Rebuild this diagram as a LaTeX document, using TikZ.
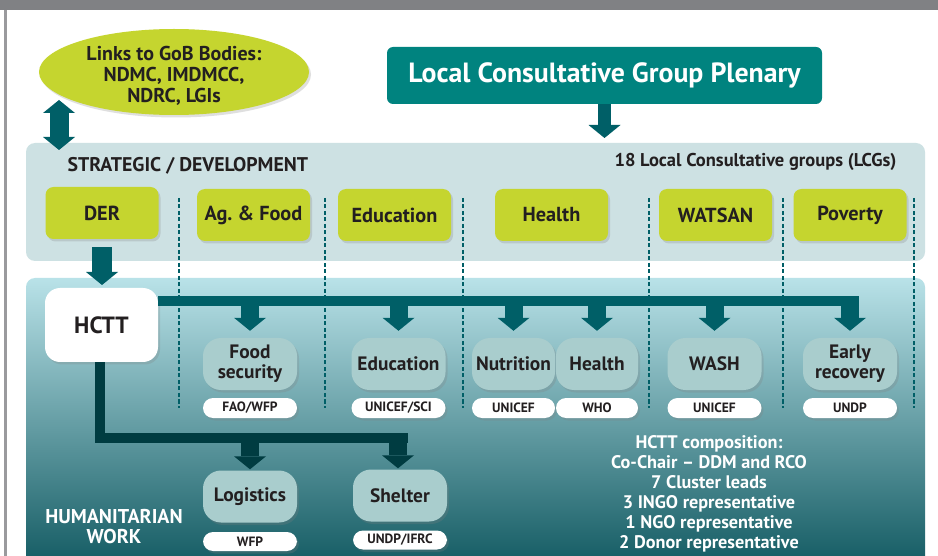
\documentclass[tikz,border=0pt]{standalone}
\usepackage{fontspec}
\setmainfont{PT Sans}
\usetikzlibrary{arrows.meta,shadows,shapes.geometric}
\definecolor{topgray}{HTML}{808184}
\definecolor{lime}{HTML}{C5D52F}
\definecolor{plen}{HTML}{00837F}
\definecolor{arr}{HTML}{005F67}
\definecolor{darkarr}{HTML}{003C41}
\definecolor{strat}{HTML}{CDE1E3}
\definecolor{clus}{HTML}{A9CDCD}
\definecolor{txt}{HTML}{231F20}
\definecolor{humtop}{HTML}{B9E2E8}
\definecolor{hummid}{HTML}{78B5BD}
\definecolor{humbot}{HTML}{004B53}
\tikzset{
  fsz/.style={font=\bfseries\fontsize{#1}{#1}\selectfont},
  softshadow/.style={drop shadow={opacity=0.25,shadow xshift=2pt,shadow yshift=-2.5pt}},
  gbox/.style={fill=lime, rounded corners=8pt, minimum width=113pt, minimum height=52pt,
    inner sep=0pt, text=txt, fsz=20.3, softshadow},
  cbox/.style={fill=clus, rounded corners=18pt, minimum width=94pt, minimum height=52pt,
    inner sep=0pt, text=txt, align=center, font=\bfseries\fontsize{19.4}{20}\selectfont, softshadow},
  lbox/.style={fill=white, rounded corners=10pt, minimum width=94pt, minimum height=20pt,
    inner sep=0pt, text=txt, fsz=13.5, softshadow},
  blockarr/.style={draw=arr, line width=#1, -{Triangle[width=32pt,length=13pt,line width=0pt]}},
  lowarr/.style={draw=darkarr, line width=18pt, -{Triangle[width=32pt,length=13pt,line width=0pt]}},
  divider/.style={draw=arr, line width=1.4pt, dash pattern=on 4pt off 2.5pt},
}
\begin{document}
\begin{tikzpicture}[x=1pt,y=-1pt]
\useasboundingbox (0,0) rectangle (938,556);
\fill[white] (0,0) rectangle (938,556);
% frame
\fill[topgray] (0,0) rectangle (938,10);
\fill[topgray!80] (4,10) rectangle (6.5,556);
% panels
\fill[strat, rounded corners=9pt] (26,143) rectangle (925,261);
\begin{scope}
  \clip (0,0) rectangle (938,556);
  \shade[top color=humtop, middle color=hummid, bottom color=humbot, rounded corners=9pt]
    (26,278) rectangle (925,600);
\end{scope}
% dividers
\foreach \xx in {179,325,463,649,783,914}
  \draw[divider] (\xx,198) -- (\xx,408);
% top nodes
\node[ellipse, fill=lime, minimum width=270pt, minimum height=86pt, inner sep=0pt, softshadow] (gob) at (174,72) {};
\node[text=txt, align=center, font=\bfseries\fontsize{20}{21}\selectfont] (gobtext) at ([yshift=-4pt]gob.center)
  {Links to GoB Bodies:\\NDMC, IMDMCC,\\NDRC, LGIs};
\node[fill=plen, rounded corners=6pt, minimum width=435pt, minimum height=57pt, inner sep=0pt,
  text=white, fsz=27.8] (plenary) at (604.5,75.5) {Local Consultative Group Plenary};
\coordinate (strattop) at (604.5,138);
\coordinate (dtop) at (59,100);
\coordinate (dbot) at (59,150);
\draw[draw=arr, line width=19pt, {Triangle[width=32pt,length=13pt,line width=0pt]}-{Triangle[width=32pt,length=13pt,line width=0pt]}] (dtop) -- (dbot);
\draw[blockarr=13pt] (plenary.south) -- (strattop);
% strategic
\node[anchor=west, text=txt, fsz=19.8] (stratlab) at (64,166) {STRATEGIC / DEVELOPMENT};
\node[anchor=east, text=txt, fsz=18.5] (lcglab) at (900,162) {18 Local Consultative groups (LCGs)};
\node[gbox] (der) at (102,213) {DER};
\node[gbox] (ag) at (253.5,215) {Ag.\ \& Food};
\node[gbox] (edu) at (394.5,215) {Education};
\node[gbox] (hea) at (551.5,215) {Health};
\node[gbox] (wat) at (715.5,215) {WATSAN};
\node[gbox] (pov) at (850,215) {Poverty};
% humanitarian
\node[fill=white, rounded corners=15pt, minimum width=113pt, minimum height=74pt, inner sep=0pt,
  text=txt, fsz=23.5, softshadow] (hctt) at (101.5,325) {HCTT};
\coordinate (dertip) at (102,285);
\draw[blockarr=20pt] ([yshift=-8pt]der.south) -- (dertip);
% clusters
\node[cbox] (cfs) at (250,364) {Food\\security};
\node[cbox] (ced) at (398.5,364) {Education};
\node[cbox, minimum width=83pt] (cnu) at (513.5,364) {Nutrition};
\node[cbox, minimum width=82pt] (che) at (597,364) {Health};
\node[cbox] (cwa) at (714.5,364) {WASH};
\node[cbox] (cer) at (850,364) {Early\\recovery};
\node[lbox] (lfs) at (250,408) {FAO/WFP};
\node[lbox] (led) at (398.5,408) {UNICEF/SCI};
\node[lbox, minimum width=83pt] (lnu) at (513.5,408) {UNICEF};
\node[lbox, minimum width=82pt] (lhe) at (597,408) {WHO};
\node[lbox] (lwa) at (714.5,408) {UNICEF};
\node[lbox] (ler) at (850,408) {UNDP};
\node[cbox] (clo) at (250,496.5) {Logistics};
\node[cbox] (csh) at (400,495.5) {Shelter};
\node[lbox, minimum height=19pt] (llo) at (250,541.5) {WFP};
\node[lbox, minimum height=19pt] (lsh) at (400,540) {UNDP/IFRC};
% upper bar
\coordinate (bar) at (0,301);
\coordinate (barlow) at (0,305);
\coordinate (barend) at (859,301);
\draw[draw=arr, line width=10pt] (hctt.east |- bar) -- (barend);
\foreach \n in {cfs,ced,cnu,che,cwa,cer}
  \draw[blockarr=18pt] (\n.north |- barlow) -- ([yshift=7pt]\n.north);
% lower connector
\coordinate (low) at (0,438);
\coordinate (lowend) at (408,438);
\draw[draw=darkarr, line width=10pt, line join=miter] ([xshift=-1.5pt]hctt.south) -- ([xshift=-1.5pt]hctt.south |- low) -- (lowend);
\coordinate (lowb) at (0,442);
\draw[lowarr] (clo.north |- lowb) -- ([yshift=1pt]clo.north);
\draw[lowarr] ([xshift=-2pt]csh.north |- lowb) -- ([xshift=-2pt,yshift=1pt]csh.north);
% texts
\node[text=white, align=center, font=\bfseries\fontsize{20}{20}\selectfont] (humlab) at (114,527)
  {HUMANITARIAN\\WORK};
\node[text=white, align=center, font=\bfseries\fontsize{18.2}{20}\selectfont] (comp) at (709,494)
  {HCTT composition:\\Co-Chair -- DDM and RCO\\7 Cluster leads\\3 INGO representative\\1 NGO representative\\2 Donor representative};
\end{tikzpicture}
\end{document}
